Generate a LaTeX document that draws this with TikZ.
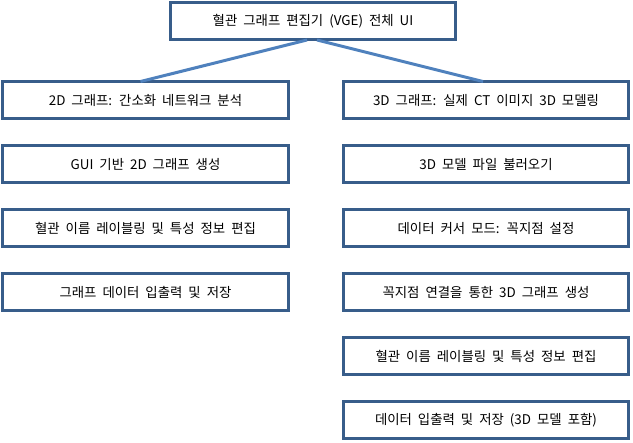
\documentclass[tikz,border=0pt]{standalone}
\usepackage{fontspec}
\setmainfont[WordSpace=2]{Noto Sans CJK KR}
\usetikzlibrary{positioning}
\definecolor{boxline}{HTML}{385D8A}
\definecolor{linkline}{HTML}{4F81BD}
\tikzset{
  uibox/.style={draw=boxline, line width=3pt, fill=white, rectangle,
    minimum height=37pt, outer sep=0pt, inner sep=2pt, font=\fontsize{13.4}{15}\selectfont},
  sidebox/.style={uibox, minimum width=286pt},
  link/.style={draw=linkline, line width=3pt}
}

\begin{document}
\begin{tikzpicture}[x=1pt, y=-1pt, node distance=27pt]
        \useasboundingbox (0,0) rectangle (633,443);
        % where the two links leave the top box
        \coordinate (hubL) at (307,40);
        \coordinate (hubR) at (317,40);
        % top
        \node[uibox, minimum width=285pt] (vge) at (313,21.5) {혈관 그래프 편집기 (VGE) 전체 UI};
        % 2D side
        \node[sidebox] (twoA) at (145.5,100) {2D 그래프: 간소화 네트워크 분석};
        \node[sidebox, below=of twoA] (twoB) {GUI 기반 2D 그래프 생성};
        \node[sidebox, below=of twoB] (twoC) {혈관 이름 레이블링 및 특성 정보 편집};
        \node[sidebox, below=of twoC] (twoD) {그래프 데이터 입출력 및 저장};
        % 3D side
        \node[sidebox, minimum width=285pt] (threeA) at (486,100) {3D 그래프: 실제 CT 이미지 3D 모델링};
        \node[sidebox, minimum width=285pt, below=of threeA] (threeB) {3D 모델 파일 불러오기};
        \node[sidebox, minimum width=285pt, below=of threeB] (threeC) {데이터 커서 모드: 꼭지점 설정};
        \node[sidebox, minimum width=285pt, below=of threeC] (threeD) {꼭지점 연결을 통한 3D 그래프 생성};
        \node[sidebox, minimum width=285pt, below=of threeD] (threeE) {혈관 이름 레이블링 및 특성 정보 편집};
        \node[sidebox, minimum width=285pt, below=of threeE] (threeF) {데이터 입출력 및 저장 (3D 모델 포함)};
        % links
        \draw[link] (hubL) -- ([xshift=-5pt]twoA.north);
        \draw[link] (hubR) -- ([xshift=-3pt]threeA.north);
    \end{tikzpicture}
\end{document}
